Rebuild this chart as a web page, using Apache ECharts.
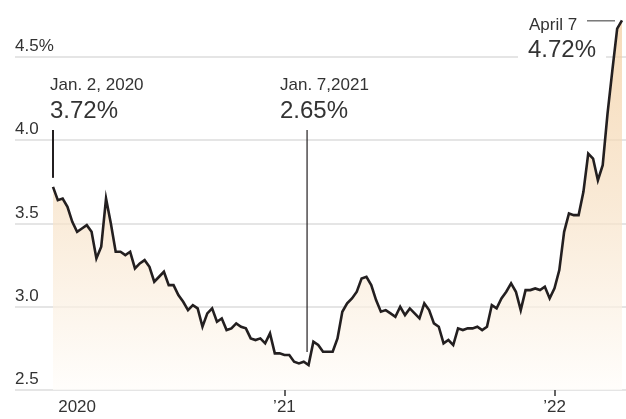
<!DOCTYPE html>
<html>
<head>
<meta charset="utf-8">
<script src="https://cdn.jsdelivr.net/npm/echarts@6/dist/echarts.min.js"></script>
<style>
  html, body { margin: 0; padding: 0; background: #fff; }
  #chart { width: 626px; height: 419px; }
</style>
</head>
<body>
<div id="chart"></div>
<script>
// Weekly 30-year fixed mortgage rate, %, first week Jan. 2, 2020 (week 0)
const rates2020 = [
  3.72, 3.64, 3.65, 3.60, 3.51, 3.45, 3.47, 3.49, 3.45, 3.29, 3.36, 3.65, 3.50,
  3.33, 3.33, 3.31, 3.33, 3.23, 3.26, 3.28, 3.24, 3.15, 3.18, 3.21, 3.13, 3.13,
  3.07, 3.03, 2.98, 3.01, 2.99, 2.88, 2.96, 2.99, 2.91, 2.93, 2.86, 2.87, 2.90,
  2.88, 2.87, 2.81, 2.80, 2.81, 2.78, 2.84, 2.72, 2.72, 2.71, 2.71, 2.67, 2.66,
  2.67
];
const rates2021 = [
  2.65, 2.79, 2.77, 2.73, 2.73, 2.73, 2.81, 2.97, 3.02, 3.05, 3.09, 3.17, 3.18,
  3.13, 3.04, 2.97, 2.98, 2.96, 2.94, 3.00, 2.95, 2.99, 2.96, 2.93, 3.02, 2.98,
  2.90, 2.88, 2.78, 2.80, 2.77, 2.87, 2.86, 2.87, 2.87, 2.88, 2.86, 2.88, 3.01,
  2.99, 3.05, 3.09, 3.14, 3.09, 2.98, 3.10, 3.10, 3.11, 3.10, 3.12, 3.05, 3.11
];
const rates2022 = [
  3.22, 3.45, 3.56, 3.55, 3.55, 3.69, 3.92, 3.89, 3.76, 3.85, 4.16, 4.42, 4.67,
  4.72
];
const rates = rates2020.concat(rates2021, rates2022);

// x-axis labels and the week each one sits on
const xLabelWeeks = [5, 48, 104];
const xLabelTexts = ['2020', '\u201921', '\u201922'];
const xTickWeeks = [48, 104];

// y-axis ticks
const yTicks = [2.5, 3.0, 3.5, 4.0, 4.5];

// call-outs: week index and date text
const callouts = [
  { week: 0, date: 'Jan. 2, 2020' },
  { week: 53, date: 'Jan. 7,2021' },
  { week: 118, date: 'April 7' }
];

const FONT = '"Liberation Sans", Arial, sans-serif';
const SMALL_SIZE = 17;
const BIG_SIZE = 24;
const INK = '#333333';

const chart = echarts.init(document.getElementById('chart'), null, { renderer: 'canvas' });

const seriesData = rates.map((v, i) => [i, v]);

chart.setOption({
  animation: false,
  backgroundColor: '#ffffff',
  grid: { left: 15, right: 0, top: 7, bottom: 29, containLabel: false },
  xAxis: {
    type: 'value',
    min: -7.88,
    max: 118.83,
    axisLine: { show: false },
    splitLine: { show: false },
    axisTick: {
      show: true,
      customValues: xTickWeeks,
      length: 6,
      lineStyle: { color: INK, width: 1.5 }
    },
    axisLabel: {
      customValues: xLabelWeeks,
      formatter: (v) => xLabelTexts[xLabelWeeks.indexOf(v)] || '',
      margin: 9,
      color: INK,
      fontFamily: FONT,
      fontSize: SMALL_SIZE
    }
  },
  yAxis: {
    type: 'value',
    min: 2.5,
    max: 4.8,
    interval: 0.5,
    axisLine: { show: false },
    axisTick: { show: false },
    splitLine: {
      show: true,
      lineStyle: { color: ['#dcdcdc', '#dcdcdc', '#dcdcdc', '#dcdcdc', '#dcdcdc', 'rgba(0,0,0,0)'], width: 1.5 }
    },
    axisLabel: {
      inside: true,
      margin: 0,
      verticalAlign: 'bottom',
      padding: [0, 0, 2, 0],
      color: INK,
      fontFamily: FONT,
      fontSize: SMALL_SIZE,
      formatter: (v) => {
        if (yTicks.indexOf(v) < 0) return '';
        return v === 4.5 ? v.toFixed(1) + '%' : v.toFixed(1);
      }
    }
  },
  series: [{
    type: 'line',
    data: seriesData,
    showSymbol: false,
    symbol: 'none',
    lineStyle: { color: '#231f20', width: 2.6, join: 'miter' },
    areaStyle: {
      origin: 'start',
      color: new echarts.graphic.LinearGradient(0, 0, 0, 1, [
        { offset: 0, color: '#f2cc9c' },
        { offset: 0.5, color: '#f7e1c5' },
        { offset: 1, color: '#fffdfa' }
      ])
    },
    z: 3
  }]
});

// call-out lines and texts, placed from the data points
function px(week) {
  return chart.convertToPixel({ seriesIndex: 0 }, [week, rates[week]]);
}
const pct = (w) => rates[w].toFixed(2) + '%';

const a = px(callouts[0].week);
const b = px(callouts[1].week);
const c = px(callouts[2].week);

const smallFont = SMALL_SIZE + 'px ' + FONT;
const bigFont = BIG_SIZE + 'px ' + FONT;

chart.setOption({
  graphic: [
    // Jan. 2, 2020
    { type: 'line', z: 10, shape: { x1: a[0], y1: 130, x2: a[0], y2: a[1] - 9 },
      style: { stroke: '#231f20', lineWidth: 2 } },
    { type: 'text', z: 10, x: 50, y: 77,
      style: { text: callouts[0].date, font: smallFont, fill: INK, verticalAlign: 'top' } },
    { type: 'text', z: 10, x: 50, y: 99,
      style: { text: pct(callouts[0].week), font: bigFont, fill: INK, verticalAlign: 'top' } },
    // Jan. 7, 2021
    { type: 'line', z: 10, shape: { x1: b[0] - 1.5, y1: 130, x2: b[0] - 1.5, y2: b[1] - 13 },
      style: { stroke: '#231f20', lineWidth: 1.2 } },
    { type: 'text', z: 10, x: 280, y: 77,
      style: { text: callouts[1].date, font: smallFont, fill: INK, verticalAlign: 'top' } },
    { type: 'text', z: 10, x: 280, y: 99,
      style: { text: pct(callouts[1].week), font: bigFont, fill: INK, verticalAlign: 'top' } },
    // April 7
    { type: 'line', z: 10, shape: { x1: 587, y1: c[1] + 0.5, x2: c[0] - 7, y2: c[1] + 0.5 },
      style: { stroke: '#555555', lineWidth: 1.2 } },
    { type: 'text', z: 10, x: 529, y: 17,
      style: { text: callouts[2].date, font: smallFont, fill: INK, verticalAlign: 'top' } },
    { type: 'text', z: 10, x: 518, y: 38,
      style: { text: pct(callouts[2].week), font: bigFont, fill: INK, verticalAlign: 'top',
               backgroundColor: '#ffffff', padding: [0, 10, 2, 10] } }
  ]
});
</script>
</body>
</html>
